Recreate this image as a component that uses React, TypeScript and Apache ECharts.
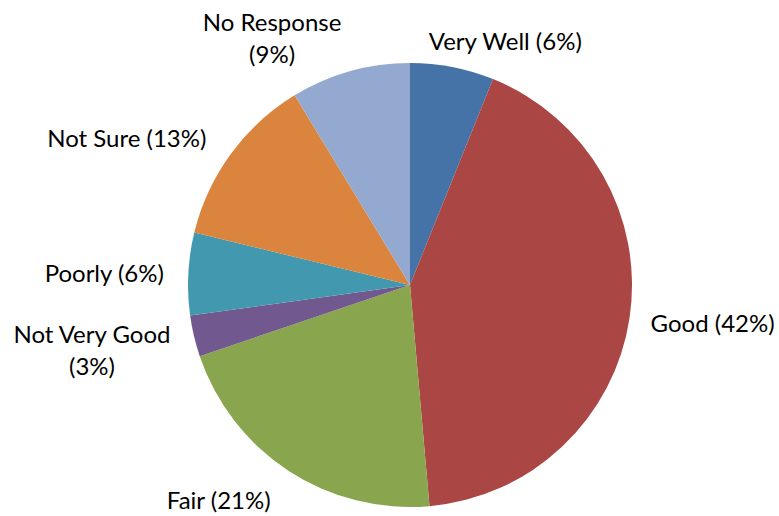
import React, { useEffect, useRef } from "react";
import * as echarts from "echarts";

const categories = ["Very Well", "Good", "Fair", "Not Very Good", "Poorly", "Not Sure", "No Response"];
const values = [6.1, 42.5, 21.2, 3.0, 6.0, 12.5, 8.7];
const labelTexts = ["Very Well (6%)", "Good (42%)", "Fair (21%)", "Not Very Good\n(3%)", "Poorly (6%)", "Not Sure (13%)", "No Response\n(9%)"];
const colors = ["#4572A7", "#AA4643", "#89A54E", "#71588F", "#4198AF", "#DB843D", "#93A9CF"];
// label offsets (px) from the slice's outer edge mid-point
const labelOffsets: [number, number][] = [
  [53, -27],
  [83, 5],
  [-70, 29],
  [-102, 13],
  [-84, -1],
  [-104, -16],
  [-78, -34],
];

export default function App() {
  const ref = useRef<HTMLDivElement>(null);
  useEffect(() => {
    document.body.style.margin = "0";
    const chart = echarts.init(ref.current!, null, { renderer: "svg" });
    chart.setOption({
      animation: false,
      series: [
        {
          type: "pie",
          center: [410, 285],
          radius: 222,
          startAngle: 90,
          clockwise: true,
          label: {
            show: true,
            position: "outside",
            fontFamily: "Lato, 'Open Sans', sans-serif",
            fontSize: 24,
            color: "#000",
            lineHeight: 32,
            align: "center",
            overflow: "none",
            edgeDistance: 0,
            formatter: (p: any) => labelTexts[p.dataIndex],
          },
          labelLine: { show: false, length: 12, length2: 6 },
          labelLayout: (params: any) => {
            const i = params.dataIndex;
            const model: any = (chart as any).getModel();
            const s = model.getSeriesByIndex(0);
            const lay = s.getData().getItemLayout(i);
            const mid = (lay.startAngle + lay.endAngle) / 2;
            const ex = lay.cx + Math.cos(mid) * lay.r;
            const ey = lay.cy + Math.sin(mid) * lay.r;
            return {
              x: ex + labelOffsets[i][0],
              y: ey + labelOffsets[i][1],
              align: "center",
              verticalAlign: "middle",
              width: 200,
            };
          },
          data: categories.map((c, i) => ({
            name: c,
            value: values[i],
            itemStyle: { color: colors[i] },
          })),
        },
      ],
    });
    return () => chart.dispose();
  }, []);
  return <div ref={ref} style={{ width: 779, height: 516 }} />;
}
